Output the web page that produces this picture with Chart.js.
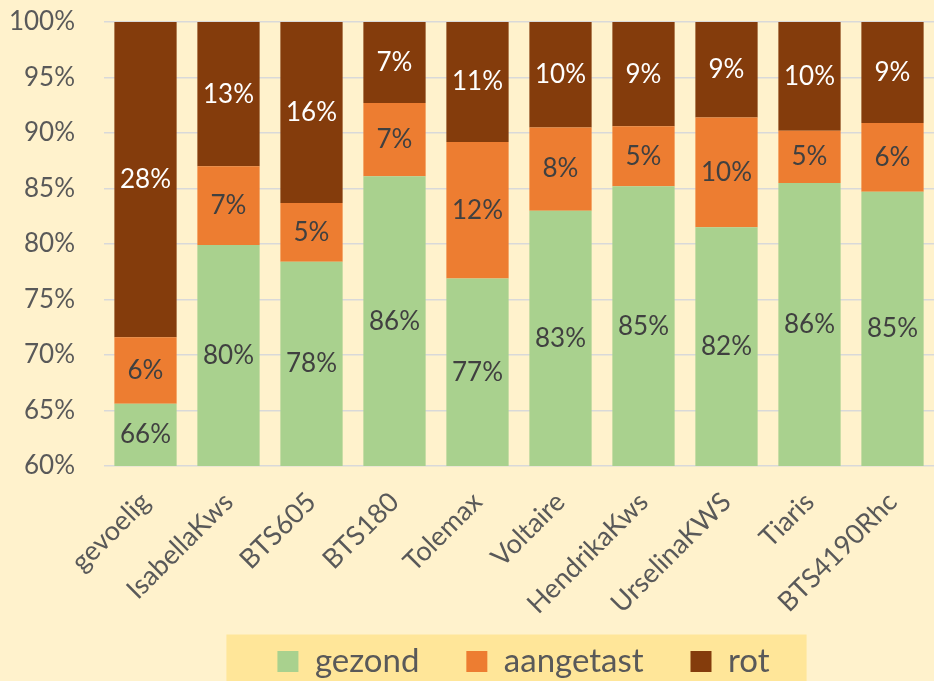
<!DOCTYPE html>
<html>
<head>
<meta charset="utf-8">
<script src="https://cdn.jsdelivr.net/npm/chart.js@4"></script>
<style>
  html, body { margin: 0; padding: 0; background: #FFF2CC; overflow: hidden; }
</style>
</head>
<body>
<canvas id="rot" width="934" height="688"></canvas>
<script>
const rassen = ['gevoelig', 'IsabellaKws', 'BTS605', 'BTS180', 'Tolemax', 'Voltaire', 'HendrikaKws', 'UrselinaKWS', 'Tiaris', 'BTS4190Rhc'];
const gezond = [65.6, 79.9, 78.4, 86.1, 76.9, 83.0, 85.2, 81.5, 85.5, 84.7];
const aangetast = [6.0, 7.1, 5.3, 6.6, 12.3, 7.5, 5.4, 9.9, 4.7, 6.2];
const rot = [28.4, 13.0, 16.3, 7.3, 10.8, 9.5, 9.4, 8.6, 9.8, 9.1];

const FONT = 'Lato, "Open Sans", sans-serif';
const LEGEND_SHIFT = 55;   // excel put the legend a bit right of centre

// percentages inside the bars, centred on the visible part of each segment
const barLabels = {
    id: 'barLabels',
    afterDatasetsDraw(chart) {
        const ctx = chart.ctx;
        const y = chart.scales.y;
        const sets = chart.data.datasets;
        ctx.save();
        ctx.font = '26px ' + FONT;
        ctx.textAlign = 'center';
        ctx.textBaseline = 'middle';
        sets.forEach((ds, i) => {
            chart.getDatasetMeta(i).data.forEach((bar, j) => {
                let start = 0;
                for (let k = 0; k < i; k++) start += sets[k].data[j];
                const end = start + ds.data[j];
                const y1 = y.getPixelForValue(Math.max(start, y.min));
                const y2 = y.getPixelForValue(Math.min(end, y.max));
                ctx.fillStyle = ds.labelColor;
                ctx.fillText(Math.round(ds.data[j]) + '%', bar.x, (y1 + y2) / 2);
            });
        });
        ctx.restore();
    }
};

// shift the legend and paint the yellow band behind it
const legendBand = {
    id: 'legendBand',
    beforeDraw(chart) {
        const lg = chart.legend;
        if (!lg || !lg.lineWidths) return;
        if (!lg._shifted) {
            lg.left += LEGEND_SHIFT;
            lg.right += LEGEND_SHIFT;
            lg._shifted = true;
        }
        const pad = lg.options.labels.padding;
        const fs = lg.options.labels.font.size;
        const x0 = (lg.left + lg.right + pad - lg.lineWidths[0]) / 2;
        const x1 = x0 + lg.lineWidths[0] - pad;
        const mid = lg.top + pad + fs / 2;
        const ctx = chart.ctx;
        ctx.save();
        ctx.fillStyle = '#FFE699';
        ctx.fillRect(x0 - 51, mid - 27, (x1 + 37) - (x0 - 51), chart.height);
        ctx.restore();
    }
};

new Chart(document.getElementById('rot'), {
    type: 'bar',
    data: {
        labels: rassen,
        datasets: [
            { label: 'gezond', data: gezond, backgroundColor: '#A9D18E', labelColor: '#404040' },
            { label: 'aangetast', data: aangetast, backgroundColor: '#ED7D31', labelColor: '#404040' },
            { label: 'rot', data: rot, backgroundColor: '#843C0C', labelColor: '#FFFFFF' }
        ]
    },
    options: {
        responsive: false,
        animation: false,
        barPercentage: 0.75,
        categoryPercentage: 1,
        layout: { padding: { top: 22, right: -3, left: 0, bottom: 0 } },
        plugins: {
            legend: {
                position: 'bottom',
                labels: {
                    color: '#595959',
                    font: { family: FONT, size: 33 },
                    boxWidth: 21,
                    boxHeight: 21,
                    padding: 30,
                    // a bit of extra room after the first two entries
                    generateLabels(chart) {
                        const items = Chart.defaults.plugins.legend.labels.generateLabels(chart);
                        items.forEach((it, i) => { if (i < items.length - 1) it.text += '  '; });
                        return items;
                    }
                }
            },
            tooltip: { enabled: false }
        },
        scales: {
            x: {
                stacked: true,
                grid: { display: false },
                border: { display: false },
                ticks: {
                    color: '#595959',
                    font: { family: FONT, size: 27 },
                    maxRotation: 45,
                    minRotation: 45,
                    autoSkip: false,
                    padding: 12
                },
                afterFit(scale) {
                    scale.height = 149;
                    scale.paddingLeft = 0;
                    scale.paddingRight = 0;
                }
            },
            y: {
                stacked: true,
                min: 60,
                max: 100,
                grid: { color: '#D9D9D9', lineWidth: 1.5, drawTicks: false },
                border: { display: false },
                ticks: {
                    stepSize: 5,
                    color: '#595959',
                    font: { family: FONT, size: 26 },
                    padding: 29,
                    callback: v => v + '%'
                },
                afterFit(scale) {
                    scale.width = 104;
                    scale.paddingTop = 0;
                    scale.paddingBottom = 0;
                }
            }
        }
    },
    plugins: [legendBand, barLabels]
});
</script>
</body>
</html>
